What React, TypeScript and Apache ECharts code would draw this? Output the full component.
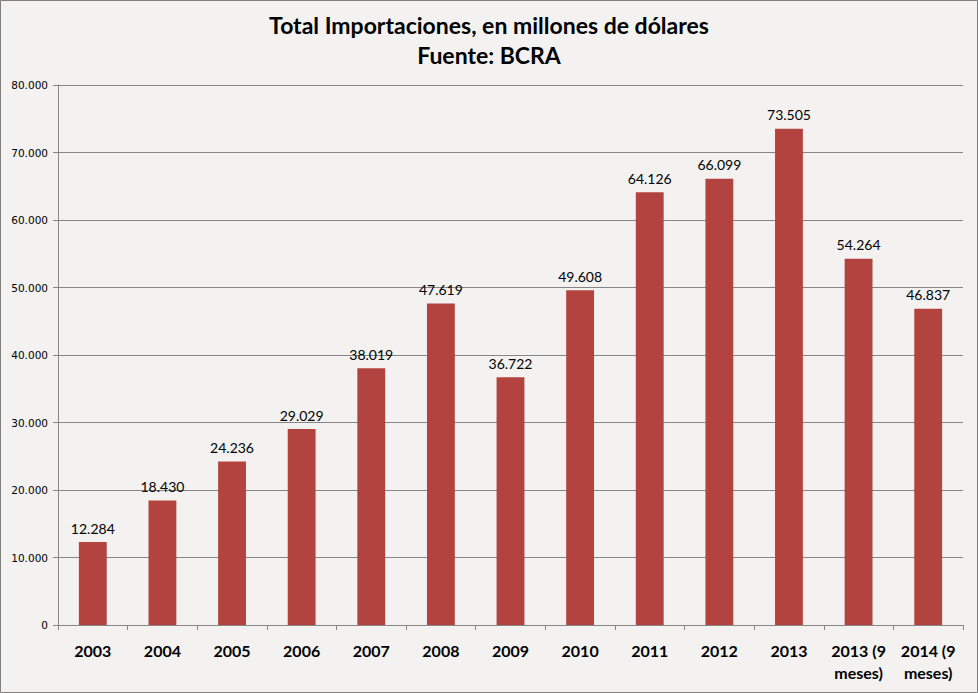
import React, { useEffect, useRef } from "react";
import * as echarts from "echarts";

const categories = ["2003", "2004", "2005", "2006", "2007", "2008", "2009", "2010", "2011", "2012", "2013", "2013 (9\nmeses)", "2014 (9\nmeses)"];
const values = [12284, 18430, 24236, 29029, 38019, 47619, 36722, 49608, 64126, 66099, 73505, 54264, 46837];
const titleLines = ["Total Importaciones, en millones de dólares", "Fuente: BCRA"];

const fmt = (v: number) => {
  if (v === 0) return "0";
  const s = Math.round(v).toString();
  return s.replace(/\B(?=(\d{3})+(?!\d))/g, ".");
};

export default function App() {
  const ref = useRef<HTMLDivElement>(null);
  useEffect(() => {
    document.body.style.margin = "0";
    const chart = echarts.init(ref.current!, null, { renderer: "svg" });
    chart.setOption({
      animation: false,
      backgroundColor: "#F3F2F1",
      title: {
        text: titleLines.join("\n"),
        left: "center",
        top: 5,
        padding: 5,
        textStyle: {
          fontFamily: "Lato, 'Open Sans', sans-serif",
          fontWeight: "bold",
          fontSize: 23,
          lineHeight: 30,
          color: "#000",
        },
      },
      grid: { left: 58, right: 15, top: 85, bottom: 68, containLabel: false },
      xAxis: {
        type: "category",
        data: categories,
        axisLine: { lineStyle: { color: "#868686", width: 1 } },
        axisTick: { show: true, length: 5, lineStyle: { color: "#868686" }, alignWithLabel: false },
        axisLabel: {
          interval: 0,
          margin: 14,
          fontFamily: "Lato, 'Open Sans', sans-serif",
          fontWeight: "bold",
          fontSize: 16,
          lineHeight: 22,
          color: "#000",
          verticalAlign: "top",
        },
      },
      yAxis: {
        type: "value",
        min: 0,
        max: 80000,
        interval: 10000,
        axisLine: { show: true, lineStyle: { color: "#868686" } },
        axisTick: { show: true, length: 5, lineStyle: { color: "#868686" } },
        splitLine: { lineStyle: { color: "#868686", width: 1 } },
        axisLabel: {
          margin: 10,
          fontFamily: "'DejaVu Sans', sans-serif",
          fontSize: 10.5,
          color: "#000",
          formatter: (v: number) => fmt(v),
        },
      },
      graphic: [
        {
          type: "rect",
          shape: { x: 0.5, y: 0.5, width: 977, height: 692 },
          style: { fill: "none", stroke: "#7F7F7F", lineWidth: 1 },
          silent: true,
        },
      ],
      series: [
        {
          type: "bar",
          data: values,
          barWidth: "40%",
          itemStyle: { color: "#B3433E" },
          label: {
            show: true,
            position: "top",
            distance: 7,
            fontFamily: "Lato, 'Open Sans', sans-serif",
            fontSize: 14,
            color: "#000",
            formatter: (p: any) => fmt(p.value),
          },
        },
      ],
    });
    return () => chart.dispose();
  }, []);
  return <div ref={ref} style={{ width: 978, height: 693 }} />;
}
